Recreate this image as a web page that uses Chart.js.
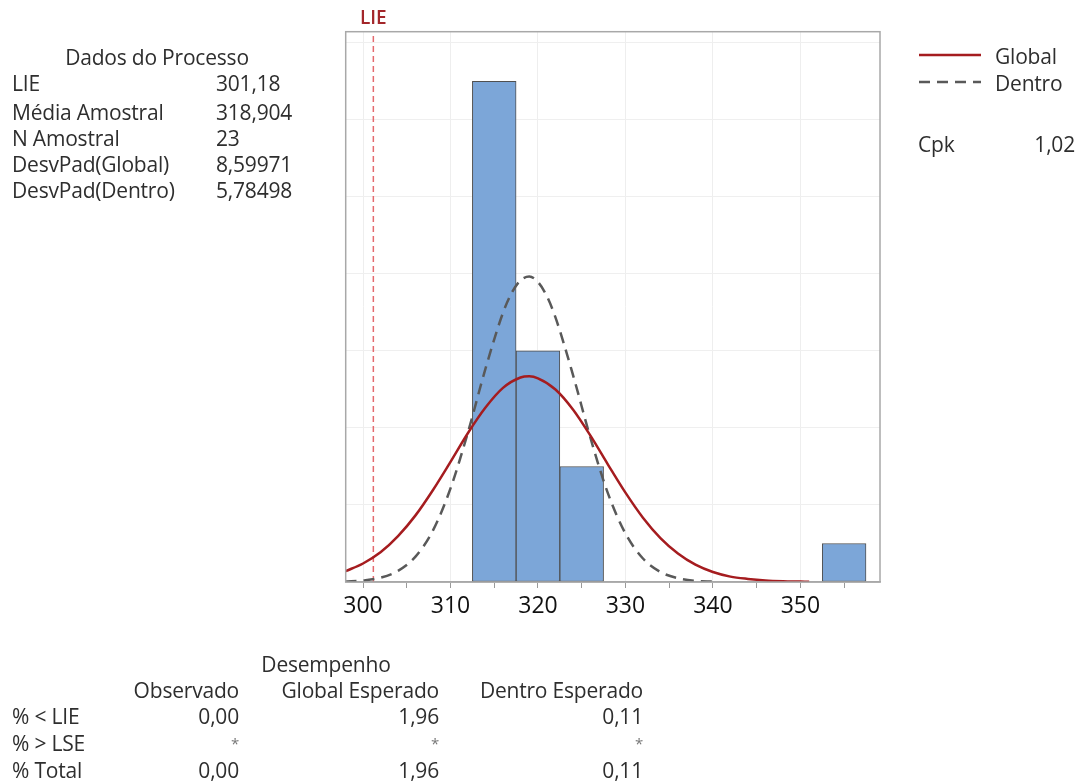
<!DOCTYPE html>
<html lang="pt">
<head>
<meta charset="utf-8">
<title>Capacidade do Processo</title>
<script src="https://cdn.jsdelivr.net/npm/chart.js@4"></script>
<style>
  body { margin: 0; background: #fff; font-family: "Open Sans", sans-serif; color: #2e2e2e; }
  #wrap { position: relative; width: 1084px; height: 782px; overflow: hidden; }
  #wrap canvas { position: absolute; left: 0; top: 0; }
  .t { position: absolute; font-size: 21px; line-height: 26px; height: 26px; white-space: nowrap; letter-spacing: -0.2px; }
</style>
</head>
<body>
<div id="wrap">
  <canvas id="chart" width="1084" height="782"></canvas>
</div>
<script>
// limite inferior de especificação
const lie = 301.18;

// histograma (centro das classes, largura 5) e contagens
const binCenters = [315, 320, 325, 355];
const binCounts = [13, 6, 3, 1];

// curva normal Global (em contagens)
const globalX = [298, 300, 302, 304, 306, 308, 310, 312, 314, 316, 318, 319, 320, 322, 324, 326, 328, 330, 332, 334, 336, 338, 340, 342, 344, 346, 348, 350, 351];
const globalY = [0.28, 0.48, 0.77, 1.19, 1.73, 2.39, 3.12, 3.87, 4.53, 5.04, 5.31, 5.34, 5.29, 5.00, 4.48, 3.80, 3.05, 2.32, 1.67, 1.14, 0.74, 0.45, 0.26, 0.14, 0.08, 0.04, 0.02, 0.01, 0.005];

// curva normal Dentro
const dentroX = [298, 300, 302, 304, 306, 308, 310, 312, 314, 316, 317, 318, 319, 320, 321, 322, 324, 326, 328, 330, 332, 334, 336, 338, 340];
const dentroY = [0.01, 0.04, 0.11, 0.29, 0.66, 1.34, 2.43, 3.89, 5.54, 6.99, 7.51, 7.83, 7.93, 7.79, 7.43, 6.87, 5.38, 3.74, 2.30, 1.26, 0.61, 0.26, 0.10, 0.03, 0.01];

// limites dos eixos
const xMin = 298.02, xMax = 359.1, yMax = 14.29;

// textos dos painéis
const processLabels = ['LIE', 'Média Amostral', 'N Amostral', 'DesvPad(Global)', 'DesvPad(Dentro)'];
const processValues = ['301,18', '318,904', '23', '8,59971', '5,78498'];
const perfHeaders = ['Observado', 'Global Esperado', 'Dentro Esperado'];
const perfRows = ['% < LIE', '% > LSE', '% Total'];
const perfValues = [
  ['0,00', '1,96', '0,11'],
  ['*', '*', '*'],
  ['0,00', '1,96', '0,11']
];

const wrap = document.getElementById('wrap');

function addText(txt, x, y, align, style) {
  const d = document.createElement('div');
  d.className = 't';
  d.textContent = txt;
  d.style.top = (y - 13) + 'px';
  if (align === 'right') {
    d.style.right = (1084 - x) + 'px';
  } else if (align === 'center') {
    d.style.left = (x - 200) + 'px';
    d.style.width = '400px';
    d.style.textAlign = 'center';
  } else {
    d.style.left = x + 'px';
  }
  if (style) Object.assign(d.style, style);
  wrap.appendChild(d);
}

// Dados do Processo
addText('Dados do Processo', 157, 57, 'center');
const rowY = [83, 112, 138, 164, 190];
processLabels.forEach((l, i) => {
  addText(l, 12, rowY[i], 'left');
  addText(processValues[i], 216, rowY[i], 'left');
});

// legenda e Cpk
addText('Global', 995, 56, 'left');
addText('Dentro', 995, 83, 'left');
addText('Cpk', 918, 144, 'left');
addText('1,02', 1075, 144, 'right');

// tabela de desempenho
addText('Desempenho', 326, 664, 'center');
const colX = [239, 439, 643];
perfHeaders.forEach((h, i) => addText(h, colX[i], 690, 'right'));
const tabY = [716, 743, 770];
perfRows.forEach((r, j) => {
  addText(r, 12, tabY[j], 'left');
  perfValues[j].forEach((v, i) => addText(v, colX[i], tabY[j], 'right', v === '*' ? { color: '#777', fontSize: '15px' } : null));
});

// moldura, rótulo LIE e traços da legenda
const framePlugin = {
  id: 'frame',
  afterDraw(chart) {
    const c = chart.ctx, a = chart.chartArea;
    c.save();
    c.strokeStyle = '#a8a8a8';
    c.lineWidth = 1.5;
    c.strokeRect(a.left, a.top, a.right - a.left, a.bottom - a.top);

    c.fillStyle = '#a3262a';
    c.font = '600 19px "Open Sans"';
    c.textAlign = 'center';
    c.textBaseline = 'middle';
    c.fillText('LIE', chart.scales.x.getPixelForValue(lie), 19);

    c.lineWidth = 2.5;
    c.strokeStyle = '#a51c1f';
    c.beginPath(); c.moveTo(919, 55); c.lineTo(981, 55); c.stroke();
    c.strokeStyle = '#595959';
    c.setLineDash([11, 7]);
    c.beginPath(); c.moveTo(919, 82); c.lineTo(981, 82); c.stroke();
    c.restore();
  }
};

const toPoints = (xs, ys) => xs.map((x, i) => ({ x: x, y: ys[i] }));

new Chart(document.getElementById('chart'), {
  type: 'bar',
  data: {
    datasets: [
      {
        type: 'line', label: 'Global', data: toPoints(globalX, globalY),
        borderColor: '#a51c1f', borderWidth: 2.5, pointRadius: 0,
        cubicInterpolationMode: 'monotone', order: 1
      },
      {
        type: 'line', label: 'Dentro', data: toPoints(dentroX, dentroY),
        borderColor: '#595959', borderWidth: 2.5, borderDash: [11, 7], pointRadius: 0,
        cubicInterpolationMode: 'monotone', order: 2
      },
      {
        type: 'line', label: 'LIE', data: [{ x: lie, y: 0 }, { x: lie, y: yMax }],
        borderColor: '#e46a6e', borderWidth: 1.5, borderDash: [6, 4], pointRadius: 0, order: 3
      },
      {
        type: 'bar', label: 'Histograma', data: toPoints(binCenters, binCounts),
        backgroundColor: '#7ca6d8', borderColor: '#505050', borderWidth: 1, borderSkipped: false,
        barPercentage: 1, categoryPercentage: 1, order: 10
      }
    ]
  },
  options: {
    responsive: false,
    animation: false,
    layout: { padding: { left: 345.7, right: 204, top: 31.7, bottom: 0 } },
    plugins: { legend: { display: false }, tooltip: { enabled: false } },
    scales: {
      x: {
        type: 'linear', min: xMin, max: xMax, offset: false,
        grid: {
          offset: false,
          color: c => (c.tick && Math.round(c.tick.value) % 10 === 0) ? '#eeeeee' : 'rgba(0,0,0,0)',
          tickColor: '#9a9a9a', tickLength: 6
        },
        border: { color: '#a8a8a8', width: 1.5 },
        ticks: {
          stepSize: 5, includeBounds: false, autoSkip: false, maxRotation: 0, padding: 5,
          color: '#111', font: { family: 'Open Sans', size: 23 },
          callback: v => Math.round(v) % 10 === 0 ? Math.round(v) : ''
        },
        afterFit: s => { s.height = 200; }
      },
      y: {
        min: 0, max: yMax,
        grid: { color: '#efefef', drawTicks: false },
        border: { display: false },
        ticks: { display: false, stepSize: 2, includeBounds: false },
        afterFit: s => { s.width = 0; }
      }
    }
  },
  plugins: [framePlugin]
});
</script>
</body>
</html>
